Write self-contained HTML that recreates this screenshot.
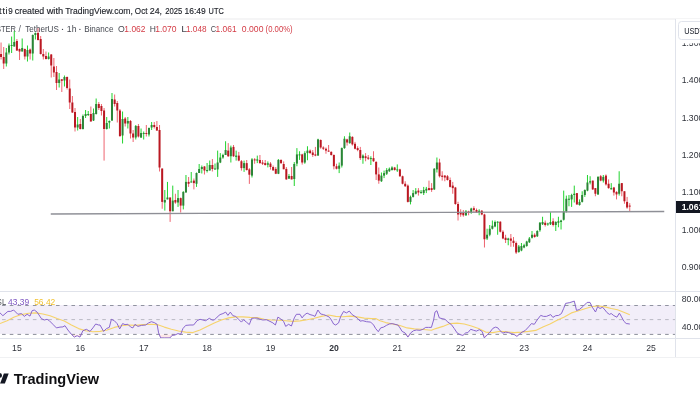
<!DOCTYPE html>
<html><head><meta charset="utf-8"><style>
*{margin:0;padding:0}
html,body{width:700px;height:400px;overflow:hidden;background:#fff}
svg{position:absolute;left:0;top:0;font-family:"Liberation Sans", Arial, sans-serif}
</style></head><body>
<svg width="700" height="400" viewBox="0 0 700 400">
<rect x="0" y="305" width="675" height="29" fill="#f2eef9"/>
<line x1="0" y1="305.5" x2="675" y2="305.5" stroke="#9093a0" stroke-width="1" stroke-dasharray="3.6 4.11" stroke-dashoffset="5.66"/>
<line x1="0" y1="319.6" x2="675" y2="319.6" stroke="#787b86" stroke-opacity="0.45" stroke-width="1" stroke-dasharray="3.6 4.11" stroke-dashoffset="5.66"/>
<line x1="0" y1="334.4" x2="675" y2="334.4" stroke="#8a8d99" stroke-width="1" stroke-dasharray="3.6 4.11" stroke-dashoffset="5.66"/>
<path d="M0.0 334.5 L0.0 334.5 L2.9 334.5 L7.9 334.5 L10.7 334.5 L13.6 334.5 L17.9 334.5 L21.4 334.5 L24.3 334.5 L27.1 334.5 L30.0 334.5 L32.1 334.5 L34.3 334.5 L37.1 334.5 L41.4 334.5 L44.3 334.5 L47.1 334.5 L49.3 334.5 L52.9 334.5 L56.4 334.5 L60.0 334.5 L62.9 334.5 L65.0 334.5 L67.9 334.5 L71.4 334.5 L74.3 337.1 L77.1 335.7 L80.0 337.1 L82.9 334.5 L86.4 334.5 L90.0 334.5 L92.9 334.5 L95.7 334.5 L98.6 334.5 L100.0 334.5 L103.6 334.5 L106.4 334.5 L109.3 334.5 L111.4 334.5 L114.3 334.5 L117.1 334.5 L119.7 334.5 L122.6 334.5 L125.0 334.5 L127.9 334.5 L130.7 334.5 L132.9 334.5 L135.0 334.5 L137.9 334.5 L141.4 334.5 L145.7 334.5 L148.6 334.5 L151.4 334.5 L154.3 334.5 L157.1 334.5 L158.6 334.5 L160.7 337.9 L164.3 337.9 L170.0 337.9 L172.1 335.4 L175.0 335.0 L177.9 334.5 L180.7 334.5 L182.9 334.5 L185.7 334.5 L190.0 334.5 L193.6 334.5 L197.1 334.5 L200.0 334.5 L202.9 334.5 L205.7 334.5 L209.3 334.5 L212.1 334.5 L214.3 334.5 L217.1 334.5 L220.0 334.5 L222.9 334.5 L225.7 334.5 L227.9 334.5 L230.3 334.5 L232.9 334.5 L235.7 334.5 L238.6 334.5 L241.4 334.5 L243.6 334.5 L246.4 334.5 L249.3 334.5 L251.7 334.5 L254.3 334.5 L257.1 334.5 L260.0 334.5 L262.9 334.5 L266.4 334.5 L270.0 334.5 L272.9 334.5 L275.4 334.5 L277.9 334.5 L280.7 334.5 L283.6 334.5 L285.7 334.5 L288.6 334.5 L291.4 334.5 L294.3 334.5 L296.4 334.5 L300.0 334.5 L302.1 334.5 L304.3 334.5 L307.1 334.5 L310.0 334.5 L312.9 334.5 L315.0 334.5 L317.9 334.5 L320.7 334.5 L323.6 334.5 L326.4 334.5 L329.3 334.5 L331.4 334.5 L333.6 334.5 L335.7 334.5 L338.6 334.5 L340.7 334.5 L343.6 334.5 L346.4 334.5 L349.3 334.5 L352.1 334.5 L355.0 334.5 L357.9 334.5 L360.0 334.5 L362.9 334.5 L366.4 334.5 L370.7 334.5 L373.6 334.5 L375.7 334.5 L378.3 334.5 L380.7 334.5 L383.6 334.5 L386.4 334.5 L389.3 334.5 L392.1 334.5 L395.0 334.5 L397.9 334.5 L400.0 334.5 L402.1 334.5 L405.0 334.5 L407.9 337.1 L410.7 334.5 L413.6 334.5 L416.4 334.5 L420.0 334.5 L422.9 334.5 L425.7 334.5 L428.6 334.5 L431.4 334.5 L433.6 334.5 L435.0 334.5 L436.9 334.5 L439.3 334.5 L442.1 334.5 L445.0 334.5 L447.9 334.5 L451.4 334.5 L454.3 334.5 L457.1 334.5 L460.0 334.6 L462.9 335.4 L465.7 334.5 L467.9 334.5 L470.7 334.5 L473.6 334.5 L476.4 334.5 L479.3 334.5 L482.1 334.5 L484.3 337.9 L487.1 335.0 L490.0 334.5 L492.9 334.5 L495.7 334.5 L497.9 334.5 L500.0 334.5 L502.9 334.5 L505.7 334.5 L508.6 334.5 L511.4 334.5 L514.3 334.6 L516.9 336.4 L519.3 334.5 L522.1 334.5 L525.0 334.5 L528.6 334.5 L531.4 334.5 L534.3 334.5 L537.1 334.5 L540.7 334.5 L543.6 334.5 L546.4 334.5 L550.7 334.5 L552.9 334.5 L555.7 334.5 L558.6 334.5 L561.4 334.5 L563.6 334.5 L565.6 334.5 L569.8 334.5 L574.3 334.5 L576.5 334.5 L579.4 334.5 L583.3 334.5 L587.1 334.5 L590.0 334.5 L592.3 334.5 L595.5 334.5 L597.7 334.5 L600.0 334.5 L602.5 334.5 L605.0 334.5 L606.9 334.5 L609.4 334.5 L611.2 334.5 L613.8 334.5 L616.9 334.5 L619.4 334.5 L621.2 334.5 L623.8 334.5 L626.2 334.5 L629.8 334.5 L629.8 334.5 Z" fill="#f23645" fill-opacity="0.12"/>
<path d="M0.0 305.5 L0.0 305.5 L2.9 305.5 L7.9 305.5 L10.7 305.5 L13.6 305.5 L17.9 305.5 L21.4 305.5 L24.3 305.5 L27.1 305.5 L30.0 305.5 L32.1 305.5 L34.3 305.5 L37.1 305.5 L41.4 305.5 L44.3 305.5 L47.1 305.5 L49.3 305.5 L52.9 305.5 L56.4 305.5 L60.0 305.5 L62.9 305.5 L65.0 305.5 L67.9 305.5 L71.4 305.5 L74.3 305.5 L77.1 305.5 L80.0 305.5 L82.9 305.5 L86.4 305.5 L90.0 305.5 L92.9 305.5 L95.7 305.5 L98.6 305.5 L100.0 305.5 L103.6 305.5 L106.4 305.5 L109.3 305.5 L111.4 305.5 L114.3 305.5 L117.1 305.5 L119.7 305.5 L122.6 305.5 L125.0 305.5 L127.9 305.5 L130.7 305.5 L132.9 305.5 L135.0 305.5 L137.9 305.5 L141.4 305.5 L145.7 305.5 L148.6 305.5 L151.4 305.5 L154.3 305.5 L157.1 305.5 L158.6 305.5 L160.7 305.5 L164.3 305.5 L170.0 305.5 L172.1 305.5 L175.0 305.5 L177.9 305.5 L180.7 305.5 L182.9 305.5 L185.7 305.5 L190.0 305.5 L193.6 305.5 L197.1 305.5 L200.0 305.5 L202.9 305.5 L205.7 305.5 L209.3 305.5 L212.1 305.5 L214.3 305.5 L217.1 305.5 L220.0 305.5 L222.9 305.5 L225.7 305.5 L227.9 305.5 L230.3 305.5 L232.9 305.5 L235.7 305.5 L238.6 305.5 L241.4 305.5 L243.6 305.5 L246.4 305.5 L249.3 305.5 L251.7 305.5 L254.3 305.5 L257.1 305.5 L260.0 305.5 L262.9 305.5 L266.4 305.5 L270.0 305.5 L272.9 305.5 L275.4 305.5 L277.9 305.5 L280.7 305.5 L283.6 305.5 L285.7 305.5 L288.6 305.5 L291.4 305.5 L294.3 305.5 L296.4 305.5 L300.0 305.5 L302.1 305.5 L304.3 305.5 L307.1 305.5 L310.0 305.5 L312.9 305.5 L315.0 305.5 L317.9 305.5 L320.7 305.5 L323.6 305.5 L326.4 305.5 L329.3 305.5 L331.4 305.5 L333.6 305.5 L335.7 305.5 L338.6 305.5 L340.7 305.5 L343.6 305.5 L346.4 305.5 L349.3 305.5 L352.1 305.5 L355.0 305.5 L357.9 305.5 L360.0 305.5 L362.9 305.5 L366.4 305.5 L370.7 305.5 L373.6 305.5 L375.7 305.5 L378.3 305.5 L380.7 305.5 L383.6 305.5 L386.4 305.5 L389.3 305.5 L392.1 305.5 L395.0 305.5 L397.9 305.5 L400.0 305.5 L402.1 305.5 L405.0 305.5 L407.9 305.5 L410.7 305.5 L413.6 305.5 L416.4 305.5 L420.0 305.5 L422.9 305.5 L425.7 305.5 L428.6 305.5 L431.4 305.5 L433.6 305.5 L435.0 305.5 L436.9 305.5 L439.3 305.5 L442.1 305.5 L445.0 305.5 L447.9 305.5 L451.4 305.5 L454.3 305.5 L457.1 305.5 L460.0 305.5 L462.9 305.5 L465.7 305.5 L467.9 305.5 L470.7 305.5 L473.6 305.5 L476.4 305.5 L479.3 305.5 L482.1 305.5 L484.3 305.5 L487.1 305.5 L490.0 305.5 L492.9 305.5 L495.7 305.5 L497.9 305.5 L500.0 305.5 L502.9 305.5 L505.7 305.5 L508.6 305.5 L511.4 305.5 L514.3 305.5 L516.9 305.5 L519.3 305.5 L522.1 305.5 L525.0 305.5 L528.6 305.5 L531.4 305.5 L534.3 305.5 L537.1 305.5 L540.7 305.5 L543.6 305.5 L546.4 305.5 L550.7 305.5 L552.9 305.5 L555.7 305.5 L558.6 305.5 L561.4 305.5 L563.6 305.5 L565.6 303.4 L569.8 302.6 L574.3 301.1 L576.5 305.5 L579.4 305.5 L583.3 305.5 L587.1 302.4 L590.0 302.4 L592.3 305.5 L595.5 305.5 L597.7 305.5 L600.0 305.5 L602.5 305.5 L605.0 305.5 L606.9 305.5 L609.4 305.5 L611.2 305.5 L613.8 305.5 L616.9 305.5 L619.4 305.5 L621.2 305.5 L623.8 305.5 L626.2 305.5 L629.8 305.5 L629.8 305.5 Z" fill="#4caf50" fill-opacity="0.08"/>
<path d="M0.0 323.6 L7.1 320.7 L14.3 317.1 L21.4 314.6 L28.6 313.3 L35.7 312.9 L42.9 314.0 L50.0 315.7 L57.1 318.6 L64.3 321.1 L71.4 325.0 L78.6 328.6 L85.7 330.7 L92.9 331.7 L100.0 331.4 L107.1 330.0 L114.3 327.4 L121.4 325.7 L128.6 325.0 L135.7 325.4 L142.9 324.6 L150.0 324.3 L157.1 324.6 L164.3 327.1 L171.4 329.3 L178.6 331.0 L185.7 332.1 L192.9 332.6 L200.0 330.0 L207.1 326.4 L214.3 322.9 L221.4 320.0 L228.6 317.9 L235.7 316.9 L242.9 316.9 L250.0 317.4 L257.1 317.6 L264.3 319.3 L271.4 320.0 L278.6 320.3 L285.7 320.7 L292.9 321.4 L300.0 320.9 L307.1 319.7 L314.3 318.3 L321.4 316.4 L328.6 315.0 L335.7 316.4 L342.9 316.7 L350.0 316.1 L357.1 316.9 L364.3 318.1 L371.4 318.6 L375.7 318.6 L380.0 320.7 L385.7 322.6 L392.9 324.0 L400.0 325.6 L407.1 327.9 L414.3 328.9 L421.4 329.3 L428.6 330.0 L431.4 330.3 L435.7 328.6 L442.9 326.4 L450.0 323.6 L457.1 323.1 L464.3 324.0 L471.4 326.0 L478.6 328.6 L485.7 332.1 L492.9 332.6 L500.0 331.3 L507.1 331.9 L514.3 332.6 L521.4 332.1 L528.6 331.4 L535.7 330.4 L542.9 326.9 L550.0 324.0 L557.1 320.3 L564.3 316.9 L571.4 312.9 L578.6 310.7 L585.7 308.5 L592.5 306.5 L598.8 306.0 L605.0 306.9 L611.2 308.5 L617.5 309.8 L623.8 312.2 L629.8 314.8" fill="none" stroke="#f6d36b" stroke-width="1.1" stroke-linejoin="round"/>
<path d="M0.0 312.9 L2.9 315.7 L7.9 311.4 L10.7 311.4 L13.6 310.0 L17.9 314.3 L21.4 313.6 L24.3 316.4 L27.1 314.3 L30.0 316.1 L32.1 310.7 L34.3 310.0 L37.1 312.1 L41.4 318.6 L44.3 320.0 L47.1 319.3 L49.3 320.7 L52.9 324.3 L56.4 327.9 L60.0 327.1 L62.9 326.9 L65.0 325.7 L67.9 330.0 L71.4 334.3 L74.3 337.1 L77.1 335.7 L80.0 337.1 L82.9 330.7 L86.4 329.3 L90.0 331.4 L92.9 327.9 L95.7 324.0 L98.6 325.0 L100.0 325.0 L103.6 331.4 L106.4 328.6 L109.3 327.4 L111.4 319.3 L114.3 320.7 L117.1 323.6 L119.7 328.9 L122.6 323.6 L125.0 324.6 L127.9 324.3 L130.7 327.1 L132.9 327.9 L135.0 324.3 L137.9 326.4 L141.4 325.4 L145.7 325.0 L148.6 322.9 L151.4 321.7 L154.3 322.6 L157.1 324.3 L158.6 332.9 L160.7 337.9 L164.3 337.9 L170.0 337.9 L172.1 335.4 L175.0 335.0 L177.9 333.6 L180.7 334.3 L182.9 328.6 L185.7 325.4 L190.0 325.0 L193.6 325.0 L197.1 320.7 L200.0 319.3 L202.9 320.0 L205.7 320.7 L209.3 318.3 L212.1 320.0 L214.3 320.0 L217.1 317.1 L220.0 314.6 L222.9 313.6 L225.7 312.1 L227.9 315.4 L230.3 312.1 L232.9 315.7 L235.7 316.4 L238.6 319.3 L241.4 322.1 L243.6 319.7 L246.4 322.1 L249.3 324.6 L251.7 318.3 L254.3 318.1 L257.1 318.1 L260.0 319.3 L262.9 320.0 L266.4 319.7 L270.0 321.4 L272.9 322.9 L275.4 325.0 L277.9 317.1 L280.7 318.9 L283.6 321.4 L285.7 326.4 L288.6 324.3 L291.4 326.0 L294.3 317.9 L296.4 314.3 L300.0 314.3 L302.1 317.9 L304.3 315.0 L307.1 313.1 L310.0 314.6 L312.9 315.4 L315.0 316.4 L317.9 310.0 L320.7 314.0 L323.6 314.6 L326.4 315.7 L329.3 317.1 L331.4 320.0 L333.6 324.0 L335.7 325.0 L338.6 322.9 L340.7 316.4 L343.6 311.4 L346.4 312.9 L349.3 311.1 L352.1 314.6 L355.0 316.4 L357.9 318.6 L360.0 321.1 L362.9 320.7 L366.4 321.7 L370.7 322.1 L373.6 325.0 L375.7 328.6 L378.3 331.7 L380.7 327.9 L383.6 327.1 L386.4 325.4 L389.3 324.0 L392.1 323.6 L395.0 324.3 L397.9 325.0 L400.0 327.9 L402.1 331.4 L405.0 332.9 L407.9 337.1 L410.7 332.9 L413.6 330.7 L416.4 330.0 L420.0 330.3 L422.9 329.3 L425.7 327.4 L428.6 327.4 L431.4 327.4 L433.6 320.0 L435.0 312.1 L436.9 310.7 L439.3 317.9 L442.1 318.6 L445.0 319.3 L447.9 322.1 L451.4 324.6 L454.3 328.6 L457.1 332.9 L460.0 334.6 L462.9 335.4 L465.7 332.9 L467.9 332.6 L470.7 329.3 L473.6 330.3 L476.4 331.1 L479.3 329.7 L482.1 331.4 L484.3 337.9 L487.1 335.0 L490.0 332.1 L492.9 328.3 L495.7 327.1 L497.9 327.9 L500.0 330.7 L502.9 333.1 L505.7 332.1 L508.6 332.6 L511.4 333.6 L514.3 334.6 L516.9 336.4 L519.3 334.3 L522.1 332.1 L525.0 330.7 L528.6 326.9 L531.4 323.6 L534.3 324.3 L537.1 320.0 L540.7 315.4 L543.6 316.4 L546.4 316.4 L550.7 314.6 L552.9 317.4 L555.7 315.7 L558.6 315.4 L561.4 313.6 L563.6 308.6 L565.6 303.4 L569.8 302.6 L574.3 301.1 L576.5 310.4 L579.4 309.5 L583.3 306.2 L587.1 302.4 L590.0 302.4 L592.3 307.2 L595.5 312.0 L597.7 306.6 L600.0 308.5 L602.5 307.2 L605.0 310.0 L606.9 312.5 L609.4 314.4 L611.2 313.5 L613.8 315.6 L616.9 317.2 L619.4 313.1 L621.2 316.2 L623.8 321.2 L626.2 323.5 L629.8 324.0" fill="none" stroke="#845fcb" stroke-width="0.95" stroke-linejoin="round"/>
<text stroke="#1c1f26" stroke-width="0.14" x="-1.00" y="13.50" font-size="9.00" fill="#1c1f26">t</text>
<text stroke="#1c1f26" stroke-width="0.14" x="2.60" y="13.50" font-size="9.00" fill="#1c1f26">t</text>
<text stroke="#1c1f26" stroke-width="0.14" x="5.60" y="13.50" font-size="9.00" fill="#1c1f26">i</text>
<text stroke="#1c1f26" stroke-width="0.14" x="8.26" y="13.50" font-size="9.00" fill="#1c1f26" textLength="4.48" lengthAdjust="spacingAndGlyphs">9</text>
<text stroke="#1c1f26" stroke-width="0.14" x="14.86" y="13.50" font-size="9.00" fill="#1c1f26" textLength="29.38" lengthAdjust="spacingAndGlyphs">created</text>
<text stroke="#1c1f26" stroke-width="0.14" x="46.66" y="13.50" font-size="9.00" fill="#1c1f26" textLength="16.48" lengthAdjust="spacingAndGlyphs">with</text>
<text stroke="#1c1f26" stroke-width="0.14" x="65.16" y="13.50" font-size="9.00" fill="#1c1f26" textLength="67.68" lengthAdjust="spacingAndGlyphs">TradingView.com,</text>
<text stroke="#1c1f26" stroke-width="0.14" x="134.86" y="13.50" font-size="9.00" fill="#1c1f26" textLength="12.58" lengthAdjust="spacingAndGlyphs">Oct</text>
<text stroke="#1c1f26" stroke-width="0.14" x="149.76" y="13.50" font-size="9.00" fill="#1c1f26" textLength="12.28" lengthAdjust="spacingAndGlyphs">24,</text>
<text stroke="#1c1f26" stroke-width="0.14" x="165.16" y="13.50" font-size="9.00" fill="#1c1f26" textLength="17.08" lengthAdjust="spacingAndGlyphs">2025</text>
<text stroke="#1c1f26" stroke-width="0.14" x="184.56" y="13.50" font-size="9.00" fill="#1c1f26" textLength="21.18" lengthAdjust="spacingAndGlyphs">16:49</text>
<text stroke="#1c1f26" stroke-width="0.14" x="208.56" y="13.50" font-size="9.00" fill="#1c1f26" textLength="15.18" lengthAdjust="spacingAndGlyphs">UTC</text>
<text x="-9.13" y="32.00" font-size="8.80" fill="#474a52" textLength="25.06" lengthAdjust="spacingAndGlyphs">ASTER</text>
<text x="18.40" y="32.00" font-size="8.80" fill="#5a5d66">/</text>
<text x="25.17" y="32.00" font-size="8.80" fill="#474a52" textLength="33.66" lengthAdjust="spacingAndGlyphs">TetherUS</text>
<text x="66.87" y="32.00" font-size="8.80" fill="#474a52" textLength="9.66" lengthAdjust="spacingAndGlyphs">1h</text>
<text x="84.17" y="32.00" font-size="8.80" fill="#474a52" textLength="29.26" lengthAdjust="spacingAndGlyphs">Binance</text>
<text x="118.07" y="32.00" font-size="8.80" fill="#474a52" textLength="6.76" lengthAdjust="spacingAndGlyphs">O</text>
<text x="124.37" y="32.00" font-size="8.80" fill="#d43c46" textLength="21.06" lengthAdjust="spacingAndGlyphs">1.062</text>
<text x="149.77" y="32.00" font-size="8.80" fill="#474a52" textLength="6.16" lengthAdjust="spacingAndGlyphs">H</text>
<text x="155.17" y="32.00" font-size="8.80" fill="#d43c46" textLength="21.36" lengthAdjust="spacingAndGlyphs">1.070</text>
<text x="181.17" y="32.00" font-size="8.80" fill="#474a52" textLength="5.86" lengthAdjust="spacingAndGlyphs">L</text>
<text x="185.97" y="32.00" font-size="8.80" fill="#d43c46" textLength="20.56" lengthAdjust="spacingAndGlyphs">1.048</text>
<text x="210.87" y="32.00" font-size="8.80" fill="#474a52" textLength="5.36" lengthAdjust="spacingAndGlyphs">C</text>
<text x="215.47" y="32.00" font-size="8.80" fill="#d43c46" textLength="21.16" lengthAdjust="spacingAndGlyphs">1.061</text>
<text x="241.87" y="32.00" font-size="8.80" fill="#d43c46" textLength="21.56" lengthAdjust="spacingAndGlyphs">0.000</text>
<text x="265.57" y="32.00" font-size="8.80" fill="#d43c46" textLength="27.06" lengthAdjust="spacingAndGlyphs">(0.00%)</text>
<circle cx="62.5" cy="29.4" r="0.65" fill="#474a52"/>
<circle cx="79.9" cy="29.4" r="0.65" fill="#474a52"/>
<rect x="0.55" y="42.50" width="1.00" height="17.00" fill="#ee6470"/>
<rect x="3.19" y="47.00" width="1.00" height="22.00" fill="#ee6470"/>
<rect x="5.83" y="48.00" width="1.00" height="18.50" fill="#22d32f"/>
<rect x="8.48" y="43.50" width="1.00" height="11.00" fill="#22d32f"/>
<rect x="11.12" y="36.50" width="1.00" height="16.50" fill="#22d32f"/>
<rect x="13.76" y="31.00" width="1.00" height="15.50" fill="#22d32f"/>
<rect x="16.40" y="39.00" width="1.00" height="12.00" fill="#ee6470"/>
<rect x="19.04" y="48.50" width="1.00" height="11.50" fill="#ee6470"/>
<rect x="21.68" y="38.50" width="1.00" height="13.00" fill="#22d32f"/>
<rect x="24.32" y="48.50" width="1.00" height="11.00" fill="#ee6470"/>
<rect x="26.97" y="45.50" width="1.00" height="16.00" fill="#22d32f"/>
<rect x="29.61" y="48.50" width="1.00" height="11.00" fill="#ee6470"/>
<rect x="32.25" y="34.50" width="1.00" height="26.00" fill="#22d32f"/>
<rect x="34.89" y="32.50" width="1.00" height="7.00" fill="#22d32f"/>
<rect x="37.53" y="28.20" width="1.00" height="12.30" fill="#ee6470"/>
<rect x="40.17" y="36.00" width="1.00" height="18.50" fill="#ee6470"/>
<rect x="42.81" y="49.00" width="1.00" height="10.50" fill="#ee6470"/>
<rect x="45.46" y="51.50" width="1.00" height="8.00" fill="#ee6470"/>
<rect x="48.10" y="52.50" width="1.00" height="7.00" fill="#22d32f"/>
<rect x="50.74" y="54.00" width="1.00" height="23.50" fill="#ee6470"/>
<rect x="53.38" y="58.00" width="1.00" height="19.00" fill="#ee6470"/>
<rect x="56.02" y="66.00" width="1.00" height="24.00" fill="#ee6470"/>
<rect x="58.66" y="73.00" width="1.00" height="14.50" fill="#22d32f"/>
<rect x="61.31" y="79.00" width="1.00" height="13.00" fill="#ee6470"/>
<rect x="63.95" y="75.50" width="1.00" height="11.00" fill="#22d32f"/>
<rect x="66.59" y="76.50" width="1.00" height="13.00" fill="#ee6470"/>
<rect x="69.23" y="79.50" width="1.00" height="29.50" fill="#ee6470"/>
<rect x="71.87" y="96.00" width="1.00" height="17.00" fill="#ee6470"/>
<rect x="74.51" y="108.00" width="1.00" height="23.50" fill="#ee6470"/>
<rect x="77.15" y="117.00" width="1.00" height="13.50" fill="#22d32f"/>
<rect x="79.80" y="119.00" width="1.00" height="10.50" fill="#ee6470"/>
<rect x="82.44" y="114.50" width="1.00" height="15.00" fill="#22d32f"/>
<rect x="85.08" y="110.00" width="1.00" height="8.00" fill="#22d32f"/>
<rect x="87.72" y="111.00" width="1.00" height="5.00" fill="#22d32f"/>
<rect x="90.36" y="106.50" width="1.00" height="15.00" fill="#ee6470"/>
<rect x="93.00" y="108.50" width="1.00" height="12.50" fill="#22d32f"/>
<rect x="95.65" y="98.50" width="1.00" height="16.00" fill="#22d32f"/>
<rect x="98.29" y="102.00" width="1.00" height="8.00" fill="#ee6470"/>
<rect x="100.93" y="104.00" width="1.00" height="11.50" fill="#ee6470"/>
<rect x="103.57" y="108.00" width="1.00" height="52.60" fill="#ee6470"/>
<rect x="106.21" y="117.00" width="1.00" height="12.50" fill="#22d32f"/>
<rect x="108.85" y="120.50" width="1.00" height="8.00" fill="#22d32f"/>
<rect x="111.49" y="93.00" width="1.00" height="28.00" fill="#22d32f"/>
<rect x="114.14" y="94.50" width="1.00" height="12.00" fill="#ee6470"/>
<rect x="116.78" y="101.00" width="1.00" height="21.50" fill="#ee6470"/>
<rect x="119.42" y="109.00" width="1.00" height="28.00" fill="#ee6470"/>
<rect x="122.06" y="111.50" width="1.00" height="32.00" fill="#22d32f"/>
<rect x="124.70" y="117.00" width="1.00" height="9.50" fill="#ee6470"/>
<rect x="127.34" y="117.00" width="1.00" height="11.50" fill="#22d32f"/>
<rect x="129.98" y="120.00" width="1.00" height="18.50" fill="#ee6470"/>
<rect x="132.63" y="130.00" width="1.00" height="12.00" fill="#ee6470"/>
<rect x="135.27" y="125.00" width="1.00" height="14.50" fill="#22d32f"/>
<rect x="137.91" y="124.00" width="1.00" height="13.50" fill="#ee6470"/>
<rect x="140.55" y="128.50" width="1.00" height="9.50" fill="#22d32f"/>
<rect x="143.19" y="131.50" width="1.00" height="8.00" fill="#22d32f"/>
<rect x="145.83" y="125.00" width="1.00" height="11.50" fill="#ee6470"/>
<rect x="148.48" y="127.50" width="1.00" height="9.00" fill="#22d32f"/>
<rect x="151.12" y="122.00" width="1.00" height="8.00" fill="#22d32f"/>
<rect x="153.76" y="122.00" width="1.00" height="6.50" fill="#ee6470"/>
<rect x="156.40" y="121.00" width="1.00" height="10.00" fill="#ee6470"/>
<rect x="159.04" y="125.00" width="1.00" height="46.50" fill="#ee6470"/>
<rect x="161.68" y="168.50" width="1.00" height="40.25" fill="#ee6470"/>
<rect x="164.32" y="190.00" width="1.00" height="20.60" fill="#22d32f"/>
<rect x="166.97" y="181.90" width="1.00" height="17.50" fill="#22d32f"/>
<rect x="169.61" y="197.50" width="1.00" height="24.40" fill="#ee6470"/>
<rect x="172.25" y="185.60" width="1.00" height="25.65" fill="#22d32f"/>
<rect x="174.89" y="193.75" width="1.00" height="10.00" fill="#ee6470"/>
<rect x="177.53" y="190.00" width="1.00" height="16.90" fill="#22d32f"/>
<rect x="180.17" y="197.50" width="1.00" height="15.00" fill="#ee6470"/>
<rect x="182.81" y="191.25" width="1.00" height="18.15" fill="#22d32f"/>
<rect x="185.46" y="175.00" width="1.00" height="17.50" fill="#22d32f"/>
<rect x="188.10" y="177.00" width="1.00" height="9.90" fill="#ee6470"/>
<rect x="190.74" y="172.00" width="1.00" height="10.50" fill="#22d32f"/>
<rect x="193.38" y="178.50" width="1.00" height="10.90" fill="#ee6470"/>
<rect x="196.02" y="172.50" width="1.00" height="14.40" fill="#22d32f"/>
<rect x="198.66" y="164.00" width="1.00" height="9.00" fill="#22d32f"/>
<rect x="201.31" y="165.50" width="1.00" height="8.00" fill="#22d32f"/>
<rect x="203.95" y="166.00" width="1.00" height="8.50" fill="#ee6470"/>
<rect x="206.59" y="163.00" width="1.00" height="9.50" fill="#22d32f"/>
<rect x="209.23" y="160.50" width="1.00" height="10.00" fill="#22d32f"/>
<rect x="211.87" y="159.00" width="1.00" height="12.50" fill="#ee6470"/>
<rect x="214.51" y="163.50" width="1.00" height="6.00" fill="#22d32f"/>
<rect x="217.15" y="150.60" width="1.00" height="26.30" fill="#22d32f"/>
<rect x="219.80" y="153.10" width="1.00" height="10.00" fill="#22d32f"/>
<rect x="222.44" y="153.75" width="1.00" height="5.00" fill="#22d32f"/>
<rect x="225.08" y="141.25" width="1.00" height="13.75" fill="#22d32f"/>
<rect x="227.72" y="143.10" width="1.00" height="13.80" fill="#ee6470"/>
<rect x="230.36" y="145.60" width="1.00" height="16.90" fill="#22d32f"/>
<rect x="233.00" y="145.00" width="1.00" height="11.90" fill="#ee6470"/>
<rect x="235.64" y="150.60" width="1.00" height="10.00" fill="#22d32f"/>
<rect x="238.29" y="151.90" width="1.00" height="9.35" fill="#ee6470"/>
<rect x="240.93" y="160.00" width="1.00" height="10.60" fill="#ee6470"/>
<rect x="243.57" y="160.60" width="1.00" height="11.30" fill="#22d32f"/>
<rect x="246.21" y="160.00" width="1.00" height="10.60" fill="#ee6470"/>
<rect x="248.85" y="168.10" width="1.00" height="15.80" fill="#ee6470"/>
<rect x="251.49" y="158.10" width="1.00" height="19.40" fill="#22d32f"/>
<rect x="254.14" y="158.10" width="1.00" height="5.65" fill="#ee6470"/>
<rect x="256.78" y="155.60" width="1.00" height="7.50" fill="#22d32f"/>
<rect x="259.42" y="155.00" width="1.00" height="8.75" fill="#ee6470"/>
<rect x="262.06" y="160.00" width="1.00" height="5.00" fill="#ee6470"/>
<rect x="264.70" y="160.00" width="1.00" height="5.60" fill="#ee6470"/>
<rect x="267.34" y="161.40" width="1.00" height="6.00" fill="#22d32f"/>
<rect x="269.98" y="162.10" width="1.00" height="7.50" fill="#ee6470"/>
<rect x="272.63" y="165.50" width="1.00" height="5.25" fill="#ee6470"/>
<rect x="275.27" y="167.00" width="1.00" height="7.10" fill="#ee6470"/>
<rect x="277.91" y="159.10" width="1.00" height="15.00" fill="#22d32f"/>
<rect x="280.55" y="159.50" width="1.00" height="4.10" fill="#ee6470"/>
<rect x="283.19" y="161.40" width="1.00" height="7.85" fill="#ee6470"/>
<rect x="285.83" y="167.00" width="1.00" height="12.75" fill="#ee6470"/>
<rect x="288.47" y="174.10" width="1.00" height="4.90" fill="#22d32f"/>
<rect x="291.12" y="167.00" width="1.00" height="12.40" fill="#ee6470"/>
<rect x="293.76" y="162.10" width="1.00" height="23.90" fill="#22d32f"/>
<rect x="296.40" y="148.10" width="1.00" height="18.15" fill="#22d32f"/>
<rect x="299.04" y="151.25" width="1.00" height="8.65" fill="#22d32f"/>
<rect x="301.68" y="153.75" width="1.00" height="10.85" fill="#ee6470"/>
<rect x="304.32" y="151.25" width="1.00" height="12.50" fill="#22d32f"/>
<rect x="306.96" y="146.25" width="1.00" height="14.00" fill="#22d32f"/>
<rect x="309.61" y="149.40" width="1.00" height="4.35" fill="#ee6470"/>
<rect x="312.25" y="150.00" width="1.00" height="6.90" fill="#ee6470"/>
<rect x="314.89" y="146.90" width="1.00" height="9.35" fill="#ee6470"/>
<rect x="317.53" y="138.75" width="1.00" height="16.85" fill="#22d32f"/>
<rect x="320.17" y="139.40" width="1.00" height="9.35" fill="#ee6470"/>
<rect x="322.81" y="146.25" width="1.00" height="3.75" fill="#ee6470"/>
<rect x="325.46" y="147.50" width="1.00" height="6.25" fill="#ee6470"/>
<rect x="328.10" y="145.00" width="1.00" height="6.90" fill="#ee6470"/>
<rect x="330.74" y="151.25" width="1.00" height="4.35" fill="#ee6470"/>
<rect x="333.38" y="154.40" width="1.00" height="15.00" fill="#ee6470"/>
<rect x="336.02" y="163.75" width="1.00" height="5.65" fill="#ee6470"/>
<rect x="338.66" y="162.50" width="1.00" height="10.60" fill="#22d32f"/>
<rect x="341.30" y="147.50" width="1.00" height="20.00" fill="#22d32f"/>
<rect x="343.95" y="136.25" width="1.00" height="12.50" fill="#22d32f"/>
<rect x="346.59" y="138.75" width="1.00" height="6.85" fill="#ee6470"/>
<rect x="349.23" y="132.50" width="1.00" height="11.25" fill="#22d32f"/>
<rect x="351.87" y="136.25" width="1.00" height="9.35" fill="#ee6470"/>
<rect x="354.51" y="141.90" width="1.00" height="7.50" fill="#ee6470"/>
<rect x="357.15" y="146.25" width="1.00" height="5.00" fill="#ee6470"/>
<rect x="359.80" y="146.90" width="1.00" height="13.10" fill="#ee6470"/>
<rect x="362.44" y="154.40" width="1.00" height="9.35" fill="#22d32f"/>
<rect x="365.08" y="153.10" width="1.00" height="8.15" fill="#ee6470"/>
<rect x="367.72" y="155.00" width="1.00" height="5.00" fill="#ee6470"/>
<rect x="370.36" y="156.25" width="1.00" height="8.75" fill="#22d32f"/>
<rect x="373.00" y="151.25" width="1.00" height="10.65" fill="#ee6470"/>
<rect x="375.64" y="161.25" width="1.00" height="18.75" fill="#ee6470"/>
<rect x="378.29" y="167.50" width="1.00" height="16.25" fill="#ee6470"/>
<rect x="380.93" y="172.50" width="1.00" height="9.40" fill="#22d32f"/>
<rect x="383.57" y="170.60" width="1.00" height="7.50" fill="#22d32f"/>
<rect x="386.21" y="168.10" width="1.00" height="6.90" fill="#22d32f"/>
<rect x="388.85" y="167.50" width="1.00" height="4.40" fill="#22d32f"/>
<rect x="391.49" y="166.25" width="1.00" height="4.35" fill="#22d32f"/>
<rect x="394.13" y="166.90" width="1.00" height="3.70" fill="#ee6470"/>
<rect x="396.78" y="164.40" width="1.00" height="7.50" fill="#22d32f"/>
<rect x="399.42" y="168.75" width="1.00" height="8.15" fill="#ee6470"/>
<rect x="402.06" y="175.60" width="1.00" height="8.80" fill="#ee6470"/>
<rect x="404.70" y="181.25" width="1.00" height="5.65" fill="#ee6470"/>
<rect x="407.34" y="184.40" width="1.00" height="18.10" fill="#ee6470"/>
<rect x="409.98" y="195.60" width="1.00" height="8.80" fill="#22d32f"/>
<rect x="412.62" y="190.00" width="1.00" height="7.50" fill="#22d32f"/>
<rect x="415.27" y="188.10" width="1.00" height="6.30" fill="#22d32f"/>
<rect x="417.91" y="188.10" width="1.00" height="7.50" fill="#ee6470"/>
<rect x="420.55" y="190.00" width="1.00" height="3.75" fill="#22d32f"/>
<rect x="423.19" y="186.90" width="1.00" height="8.10" fill="#22d32f"/>
<rect x="425.83" y="186.90" width="1.00" height="6.20" fill="#22d32f"/>
<rect x="428.47" y="180.60" width="1.00" height="10.00" fill="#ee6470"/>
<rect x="431.12" y="183.10" width="1.00" height="8.80" fill="#ee6470"/>
<rect x="433.76" y="168.10" width="1.00" height="21.90" fill="#22d32f"/>
<rect x="436.40" y="157.50" width="1.00" height="15.00" fill="#22d32f"/>
<rect x="439.04" y="158.75" width="1.00" height="18.75" fill="#ee6470"/>
<rect x="441.68" y="171.25" width="1.00" height="9.35" fill="#ee6470"/>
<rect x="444.32" y="175.00" width="1.00" height="6.25" fill="#ee6470"/>
<rect x="446.96" y="175.00" width="1.00" height="5.60" fill="#ee6470"/>
<rect x="449.61" y="177.50" width="1.00" height="10.00" fill="#ee6470"/>
<rect x="452.25" y="181.90" width="1.00" height="11.85" fill="#ee6470"/>
<rect x="454.89" y="186.90" width="1.00" height="17.85" fill="#ee6470"/>
<rect x="457.53" y="201.75" width="1.00" height="18.75" fill="#ee6470"/>
<rect x="460.17" y="209.25" width="1.00" height="7.50" fill="#ee6470"/>
<rect x="462.81" y="210.00" width="1.00" height="6.75" fill="#ee6470"/>
<rect x="465.45" y="210.00" width="1.00" height="6.00" fill="#22d32f"/>
<rect x="468.10" y="210.75" width="1.00" height="4.50" fill="#ee6470"/>
<rect x="470.74" y="207.75" width="1.00" height="6.00" fill="#22d32f"/>
<rect x="473.38" y="206.25" width="1.00" height="6.00" fill="#ee6470"/>
<rect x="476.02" y="208.50" width="1.00" height="4.50" fill="#ee6470"/>
<rect x="478.66" y="209.25" width="1.00" height="6.00" fill="#22d32f"/>
<rect x="481.30" y="210.00" width="1.00" height="5.25" fill="#ee6470"/>
<rect x="483.95" y="213.75" width="1.00" height="33.75" fill="#ee6470"/>
<rect x="486.59" y="228.75" width="1.00" height="11.25" fill="#22d32f"/>
<rect x="489.23" y="225.00" width="1.00" height="11.25" fill="#22d32f"/>
<rect x="491.87" y="220.50" width="1.00" height="9.00" fill="#22d32f"/>
<rect x="494.51" y="220.50" width="1.00" height="6.75" fill="#22d32f"/>
<rect x="497.15" y="221.25" width="1.00" height="13.50" fill="#22d32f"/>
<rect x="499.79" y="221.25" width="1.00" height="11.25" fill="#ee6470"/>
<rect x="502.44" y="230.25" width="1.00" height="9.00" fill="#ee6470"/>
<rect x="505.08" y="234.75" width="1.00" height="8.25" fill="#ee6470"/>
<rect x="507.72" y="237.75" width="1.00" height="7.50" fill="#22d32f"/>
<rect x="510.36" y="234.00" width="1.00" height="12.75" fill="#ee6470"/>
<rect x="513.00" y="237.00" width="1.00" height="9.75" fill="#ee6470"/>
<rect x="515.64" y="241.50" width="1.00" height="12.50" fill="#ee6470"/>
<rect x="518.29" y="245.00" width="1.00" height="7.75" fill="#22d32f"/>
<rect x="520.93" y="243.00" width="1.00" height="8.25" fill="#22d32f"/>
<rect x="523.57" y="243.75" width="1.00" height="4.50" fill="#22d32f"/>
<rect x="526.21" y="240.75" width="1.00" height="6.00" fill="#22d32f"/>
<rect x="528.85" y="237.00" width="1.00" height="6.00" fill="#22d32f"/>
<rect x="531.49" y="231.00" width="1.00" height="7.50" fill="#22d32f"/>
<rect x="534.13" y="233.25" width="1.00" height="4.50" fill="#ee6470"/>
<rect x="536.78" y="230.25" width="1.00" height="6.75" fill="#22d32f"/>
<rect x="539.42" y="222.00" width="1.00" height="9.75" fill="#22d32f"/>
<rect x="542.06" y="216.75" width="1.00" height="8.25" fill="#22d32f"/>
<rect x="544.70" y="220.50" width="1.00" height="6.00" fill="#ee6470"/>
<rect x="547.34" y="222.75" width="1.00" height="3.00" fill="#22d32f"/>
<rect x="549.98" y="212.25" width="1.00" height="12.75" fill="#22d32f"/>
<rect x="552.62" y="218.25" width="1.00" height="8.25" fill="#ee6470"/>
<rect x="555.27" y="221.25" width="1.00" height="9.75" fill="#22d32f"/>
<rect x="557.91" y="216.75" width="1.00" height="10.50" fill="#22d32f"/>
<rect x="560.55" y="219.75" width="1.00" height="9.75" fill="#22d32f"/>
<rect x="563.19" y="190.60" width="1.00" height="29.90" fill="#22d32f"/>
<rect x="565.83" y="195.60" width="1.00" height="16.90" fill="#22d32f"/>
<rect x="568.47" y="195.00" width="1.00" height="11.25" fill="#22d32f"/>
<rect x="571.12" y="193.75" width="1.00" height="13.15" fill="#22d32f"/>
<rect x="573.76" y="185.60" width="1.00" height="16.90" fill="#22d32f"/>
<rect x="576.40" y="193.10" width="1.00" height="11.90" fill="#ee6470"/>
<rect x="579.04" y="199.40" width="1.00" height="6.20" fill="#22d32f"/>
<rect x="581.68" y="191.25" width="1.00" height="11.25" fill="#22d32f"/>
<rect x="584.32" y="189.40" width="1.00" height="7.50" fill="#22d32f"/>
<rect x="586.96" y="175.00" width="1.00" height="16.25" fill="#22d32f"/>
<rect x="589.61" y="176.25" width="1.00" height="8.15" fill="#22d32f"/>
<rect x="592.25" y="180.60" width="1.00" height="9.40" fill="#ee6470"/>
<rect x="594.89" y="188.10" width="1.00" height="8.15" fill="#ee6470"/>
<rect x="597.53" y="176.25" width="1.00" height="18.75" fill="#22d32f"/>
<rect x="600.17" y="175.00" width="1.00" height="6.25" fill="#ee6470"/>
<rect x="602.81" y="175.00" width="1.00" height="7.50" fill="#22d32f"/>
<rect x="605.45" y="174.40" width="1.00" height="11.20" fill="#ee6470"/>
<rect x="608.10" y="179.40" width="1.00" height="9.35" fill="#ee6470"/>
<rect x="610.74" y="183.10" width="1.00" height="6.30" fill="#22d32f"/>
<rect x="613.38" y="186.90" width="1.00" height="8.70" fill="#ee6470"/>
<rect x="616.02" y="191.25" width="1.00" height="8.15" fill="#ee6470"/>
<rect x="618.66" y="171.25" width="1.00" height="24.35" fill="#22d32f"/>
<rect x="621.30" y="183.10" width="1.00" height="13.15" fill="#ee6470"/>
<rect x="623.95" y="191.25" width="1.00" height="12.50" fill="#ee6470"/>
<rect x="626.59" y="196.90" width="1.00" height="11.85" fill="#ee6470"/>
<rect x="629.23" y="203.10" width="1.00" height="8.15" fill="#ee6470"/>
<rect x="0.05" y="54.00" width="2.00" height="3.00" fill="#ba1822"/>
<rect x="2.69" y="57.00" width="2.00" height="6.50" fill="#ba1822"/>
<rect x="5.33" y="52.50" width="2.00" height="11.00" fill="#2b8437"/>
<rect x="7.98" y="45.50" width="2.00" height="7.00" fill="#2b8437"/>
<rect x="10.62" y="45.00" width="2.00" height="1.00" fill="#2b8437"/>
<rect x="13.26" y="42.00" width="2.00" height="4.50" fill="#2b8437"/>
<rect x="15.90" y="41.00" width="2.00" height="9.50" fill="#ba1822"/>
<rect x="18.54" y="49.00" width="2.00" height="2.50" fill="#ba1822"/>
<rect x="21.18" y="48.00" width="2.00" height="3.50" fill="#2b8437"/>
<rect x="23.82" y="49.00" width="2.00" height="7.50" fill="#ba1822"/>
<rect x="26.47" y="50.00" width="2.00" height="6.50" fill="#2b8437"/>
<rect x="29.11" y="49.50" width="2.00" height="4.00" fill="#ba1822"/>
<rect x="31.75" y="35.00" width="2.00" height="18.50" fill="#2b8437"/>
<rect x="34.39" y="33.00" width="2.00" height="2.00" fill="#2b8437"/>
<rect x="37.03" y="33.00" width="2.00" height="7.00" fill="#ba1822"/>
<rect x="39.67" y="39.00" width="2.00" height="15.00" fill="#ba1822"/>
<rect x="42.31" y="54.00" width="2.00" height="2.50" fill="#ba1822"/>
<rect x="44.96" y="56.00" width="2.00" height="3.00" fill="#ba1822"/>
<rect x="47.60" y="56.50" width="2.00" height="2.50" fill="#2b8437"/>
<rect x="50.24" y="54.50" width="2.00" height="11.00" fill="#ba1822"/>
<rect x="52.88" y="66.50" width="2.00" height="6.00" fill="#ba1822"/>
<rect x="55.52" y="72.00" width="2.00" height="11.00" fill="#ba1822"/>
<rect x="58.16" y="79.50" width="2.00" height="3.50" fill="#2b8437"/>
<rect x="60.81" y="79.30" width="2.00" height="1.50" fill="#ba1822"/>
<rect x="63.45" y="77.00" width="2.00" height="3.50" fill="#2b8437"/>
<rect x="66.09" y="77.00" width="2.00" height="11.00" fill="#ba1822"/>
<rect x="68.73" y="88.50" width="2.00" height="14.00" fill="#ba1822"/>
<rect x="71.37" y="102.50" width="2.00" height="10.00" fill="#ba1822"/>
<rect x="74.01" y="112.00" width="2.00" height="15.50" fill="#ba1822"/>
<rect x="76.65" y="124.50" width="2.00" height="3.00" fill="#2b8437"/>
<rect x="79.30" y="124.00" width="2.00" height="5.00" fill="#ba1822"/>
<rect x="81.94" y="116.00" width="2.00" height="13.00" fill="#2b8437"/>
<rect x="84.58" y="114.00" width="2.00" height="2.00" fill="#2b8437"/>
<rect x="87.22" y="114.00" width="2.00" height="1.00" fill="#2b8437"/>
<rect x="89.86" y="114.00" width="2.00" height="7.50" fill="#ba1822"/>
<rect x="92.50" y="113.00" width="2.00" height="7.50" fill="#2b8437"/>
<rect x="95.15" y="104.00" width="2.00" height="10.00" fill="#2b8437"/>
<rect x="97.79" y="104.00" width="2.00" height="4.00" fill="#ba1822"/>
<rect x="100.43" y="106.00" width="2.00" height="5.00" fill="#ba1822"/>
<rect x="103.07" y="110.50" width="2.00" height="18.50" fill="#ba1822"/>
<rect x="105.71" y="123.00" width="2.00" height="6.00" fill="#2b8437"/>
<rect x="108.35" y="121.00" width="2.00" height="1.50" fill="#2b8437"/>
<rect x="110.99" y="99.00" width="2.00" height="21.50" fill="#2b8437"/>
<rect x="113.64" y="99.50" width="2.00" height="4.50" fill="#ba1822"/>
<rect x="116.28" y="103.00" width="2.00" height="7.50" fill="#ba1822"/>
<rect x="118.92" y="110.50" width="2.00" height="25.50" fill="#ba1822"/>
<rect x="121.56" y="119.00" width="2.00" height="16.50" fill="#2b8437"/>
<rect x="124.20" y="118.50" width="2.00" height="5.00" fill="#ba1822"/>
<rect x="126.84" y="121.00" width="2.00" height="2.50" fill="#2b8437"/>
<rect x="129.48" y="121.00" width="2.00" height="12.50" fill="#ba1822"/>
<rect x="132.13" y="133.50" width="2.00" height="4.00" fill="#ba1822"/>
<rect x="134.77" y="126.00" width="2.00" height="11.50" fill="#2b8437"/>
<rect x="137.41" y="126.00" width="2.00" height="10.50" fill="#ba1822"/>
<rect x="140.05" y="133.00" width="2.00" height="4.50" fill="#2b8437"/>
<rect x="142.69" y="133.00" width="2.00" height="1.00" fill="#2b8437"/>
<rect x="145.33" y="133.00" width="2.00" height="1.00" fill="#ba1822"/>
<rect x="147.98" y="128.00" width="2.00" height="6.50" fill="#2b8437"/>
<rect x="150.62" y="125.00" width="2.00" height="2.50" fill="#2b8437"/>
<rect x="153.26" y="125.00" width="2.00" height="2.00" fill="#ba1822"/>
<rect x="155.90" y="127.00" width="2.00" height="3.50" fill="#ba1822"/>
<rect x="158.54" y="130.00" width="2.00" height="37.50" fill="#ba1822"/>
<rect x="161.18" y="168.50" width="2.00" height="33.40" fill="#ba1822"/>
<rect x="163.82" y="200.00" width="2.00" height="2.50" fill="#2b8437"/>
<rect x="166.47" y="197.50" width="2.00" height="1.90" fill="#2b8437"/>
<rect x="169.11" y="197.50" width="2.00" height="13.75" fill="#ba1822"/>
<rect x="171.75" y="200.60" width="2.00" height="10.65" fill="#2b8437"/>
<rect x="174.39" y="200.00" width="2.00" height="2.50" fill="#ba1822"/>
<rect x="177.03" y="198.10" width="2.00" height="4.40" fill="#2b8437"/>
<rect x="179.67" y="198.10" width="2.00" height="7.50" fill="#ba1822"/>
<rect x="182.31" y="191.90" width="2.00" height="13.70" fill="#2b8437"/>
<rect x="184.96" y="181.90" width="2.00" height="10.60" fill="#2b8437"/>
<rect x="187.60" y="181.90" width="2.00" height="1.85" fill="#ba1822"/>
<rect x="190.24" y="181.50" width="2.00" height="1.00" fill="#2b8437"/>
<rect x="192.88" y="180.60" width="2.00" height="2.50" fill="#ba1822"/>
<rect x="195.52" y="173.00" width="2.00" height="10.75" fill="#2b8437"/>
<rect x="198.16" y="169.00" width="2.00" height="4.00" fill="#2b8437"/>
<rect x="200.81" y="167.00" width="2.00" height="2.00" fill="#2b8437"/>
<rect x="203.45" y="166.50" width="2.00" height="4.00" fill="#ba1822"/>
<rect x="206.09" y="170.00" width="2.00" height="1.00" fill="#2b8437"/>
<rect x="208.73" y="165.00" width="2.00" height="5.50" fill="#2b8437"/>
<rect x="211.37" y="165.00" width="2.00" height="4.00" fill="#ba1822"/>
<rect x="214.01" y="168.50" width="2.00" height="1.00" fill="#2b8437"/>
<rect x="216.65" y="162.50" width="2.00" height="6.90" fill="#2b8437"/>
<rect x="219.30" y="157.50" width="2.00" height="5.00" fill="#2b8437"/>
<rect x="221.94" y="155.00" width="2.00" height="2.50" fill="#2b8437"/>
<rect x="224.58" y="150.00" width="2.00" height="5.00" fill="#2b8437"/>
<rect x="227.22" y="150.60" width="2.00" height="5.65" fill="#ba1822"/>
<rect x="229.86" y="147.50" width="2.00" height="8.75" fill="#2b8437"/>
<rect x="232.50" y="146.90" width="2.00" height="9.35" fill="#ba1822"/>
<rect x="235.14" y="155.60" width="2.00" height="1.30" fill="#2b8437"/>
<rect x="237.79" y="155.60" width="2.00" height="5.00" fill="#ba1822"/>
<rect x="240.43" y="161.25" width="2.00" height="6.85" fill="#ba1822"/>
<rect x="243.07" y="163.10" width="2.00" height="5.00" fill="#2b8437"/>
<rect x="245.71" y="163.10" width="2.00" height="6.90" fill="#ba1822"/>
<rect x="248.35" y="169.40" width="2.00" height="5.30" fill="#ba1822"/>
<rect x="250.99" y="159.40" width="2.00" height="16.20" fill="#2b8437"/>
<rect x="253.64" y="159.40" width="2.00" height="1.00" fill="#ba1822"/>
<rect x="256.28" y="159.40" width="2.00" height="1.20" fill="#2b8437"/>
<rect x="258.92" y="160.00" width="2.00" height="3.10" fill="#ba1822"/>
<rect x="261.56" y="162.50" width="2.00" height="1.25" fill="#ba1822"/>
<rect x="264.20" y="163.10" width="2.00" height="1.90" fill="#ba1822"/>
<rect x="266.84" y="163.25" width="2.00" height="1.50" fill="#2b8437"/>
<rect x="269.48" y="163.60" width="2.00" height="3.40" fill="#ba1822"/>
<rect x="272.13" y="167.00" width="2.00" height="3.40" fill="#ba1822"/>
<rect x="274.77" y="168.90" width="2.00" height="4.85" fill="#ba1822"/>
<rect x="277.41" y="159.90" width="2.00" height="13.85" fill="#2b8437"/>
<rect x="280.05" y="159.90" width="2.00" height="3.35" fill="#ba1822"/>
<rect x="282.69" y="164.00" width="2.00" height="5.25" fill="#ba1822"/>
<rect x="285.33" y="168.90" width="2.00" height="10.50" fill="#ba1822"/>
<rect x="287.97" y="176.00" width="2.00" height="2.60" fill="#2b8437"/>
<rect x="290.62" y="176.00" width="2.00" height="3.40" fill="#ba1822"/>
<rect x="293.26" y="164.00" width="2.00" height="15.00" fill="#2b8437"/>
<rect x="295.90" y="154.40" width="2.00" height="9.20" fill="#2b8437"/>
<rect x="298.54" y="154.40" width="2.00" height="1.00" fill="#2b8437"/>
<rect x="301.18" y="154.40" width="2.00" height="8.10" fill="#ba1822"/>
<rect x="303.82" y="153.10" width="2.00" height="9.40" fill="#2b8437"/>
<rect x="306.46" y="150.60" width="2.00" height="2.50" fill="#2b8437"/>
<rect x="309.11" y="150.60" width="2.00" height="2.50" fill="#ba1822"/>
<rect x="311.75" y="152.50" width="2.00" height="2.50" fill="#ba1822"/>
<rect x="314.39" y="154.40" width="2.00" height="1.20" fill="#ba1822"/>
<rect x="317.03" y="139.40" width="2.00" height="16.20" fill="#2b8437"/>
<rect x="319.67" y="140.00" width="2.00" height="7.50" fill="#ba1822"/>
<rect x="322.31" y="147.50" width="2.00" height="1.25" fill="#ba1822"/>
<rect x="324.96" y="148.75" width="2.00" height="1.85" fill="#ba1822"/>
<rect x="327.60" y="150.60" width="2.00" height="1.00" fill="#ba1822"/>
<rect x="330.24" y="151.90" width="2.00" height="3.10" fill="#ba1822"/>
<rect x="332.88" y="155.00" width="2.00" height="11.25" fill="#ba1822"/>
<rect x="335.52" y="166.25" width="2.00" height="2.50" fill="#ba1822"/>
<rect x="338.16" y="165.60" width="2.00" height="3.15" fill="#2b8437"/>
<rect x="340.80" y="148.10" width="2.00" height="17.50" fill="#2b8437"/>
<rect x="343.45" y="138.75" width="2.00" height="9.35" fill="#2b8437"/>
<rect x="346.09" y="139.40" width="2.00" height="3.10" fill="#ba1822"/>
<rect x="348.73" y="136.25" width="2.00" height="6.85" fill="#2b8437"/>
<rect x="351.37" y="136.90" width="2.00" height="7.50" fill="#ba1822"/>
<rect x="354.01" y="143.75" width="2.00" height="5.00" fill="#ba1822"/>
<rect x="356.65" y="148.10" width="2.00" height="1.90" fill="#ba1822"/>
<rect x="359.30" y="150.00" width="2.00" height="8.10" fill="#ba1822"/>
<rect x="361.94" y="155.60" width="2.00" height="2.50" fill="#2b8437"/>
<rect x="364.58" y="156.25" width="2.00" height="1.85" fill="#ba1822"/>
<rect x="367.22" y="157.50" width="2.00" height="1.25" fill="#ba1822"/>
<rect x="369.86" y="158.10" width="2.00" height="1.00" fill="#2b8437"/>
<rect x="372.50" y="158.10" width="2.00" height="3.15" fill="#ba1822"/>
<rect x="375.14" y="161.90" width="2.00" height="12.50" fill="#ba1822"/>
<rect x="377.79" y="174.40" width="2.00" height="6.20" fill="#ba1822"/>
<rect x="380.43" y="175.60" width="2.00" height="5.65" fill="#2b8437"/>
<rect x="383.07" y="173.10" width="2.00" height="2.50" fill="#2b8437"/>
<rect x="385.71" y="170.00" width="2.00" height="3.75" fill="#2b8437"/>
<rect x="388.35" y="168.75" width="2.00" height="2.50" fill="#2b8437"/>
<rect x="390.99" y="167.50" width="2.00" height="2.50" fill="#2b8437"/>
<rect x="393.63" y="167.50" width="2.00" height="2.50" fill="#ba1822"/>
<rect x="396.28" y="169.40" width="2.00" height="1.00" fill="#2b8437"/>
<rect x="398.92" y="169.40" width="2.00" height="6.85" fill="#ba1822"/>
<rect x="401.56" y="176.25" width="2.00" height="7.50" fill="#ba1822"/>
<rect x="404.20" y="183.75" width="2.00" height="2.50" fill="#ba1822"/>
<rect x="406.84" y="185.60" width="2.00" height="16.30" fill="#ba1822"/>
<rect x="409.48" y="196.90" width="2.00" height="5.00" fill="#2b8437"/>
<rect x="412.12" y="193.10" width="2.00" height="3.80" fill="#2b8437"/>
<rect x="414.77" y="191.25" width="2.00" height="2.50" fill="#2b8437"/>
<rect x="417.41" y="190.60" width="2.00" height="1.90" fill="#ba1822"/>
<rect x="420.05" y="191.90" width="2.00" height="1.00" fill="#2b8437"/>
<rect x="422.69" y="190.00" width="2.00" height="3.10" fill="#2b8437"/>
<rect x="425.33" y="188.75" width="2.00" height="1.85" fill="#2b8437"/>
<rect x="427.97" y="188.10" width="2.00" height="1.90" fill="#ba1822"/>
<rect x="430.62" y="188.10" width="2.00" height="1.90" fill="#ba1822"/>
<rect x="433.26" y="168.75" width="2.00" height="20.65" fill="#2b8437"/>
<rect x="435.90" y="162.50" width="2.00" height="6.90" fill="#2b8437"/>
<rect x="438.54" y="162.50" width="2.00" height="13.75" fill="#ba1822"/>
<rect x="441.18" y="175.60" width="2.00" height="1.30" fill="#ba1822"/>
<rect x="443.82" y="175.60" width="2.00" height="1.90" fill="#ba1822"/>
<rect x="446.46" y="176.25" width="2.00" height="3.75" fill="#ba1822"/>
<rect x="449.11" y="180.00" width="2.00" height="6.90" fill="#ba1822"/>
<rect x="451.75" y="185.60" width="2.00" height="2.50" fill="#ba1822"/>
<rect x="454.39" y="187.50" width="2.00" height="16.50" fill="#ba1822"/>
<rect x="457.03" y="204.00" width="2.00" height="10.50" fill="#ba1822"/>
<rect x="459.67" y="213.00" width="2.00" height="1.50" fill="#ba1822"/>
<rect x="462.31" y="213.00" width="2.00" height="2.25" fill="#ba1822"/>
<rect x="464.95" y="211.50" width="2.00" height="3.75" fill="#2b8437"/>
<rect x="467.60" y="211.50" width="2.00" height="1.50" fill="#ba1822"/>
<rect x="470.24" y="208.50" width="2.00" height="4.50" fill="#2b8437"/>
<rect x="472.88" y="208.20" width="2.00" height="1.80" fill="#ba1822"/>
<rect x="475.52" y="210.00" width="2.00" height="2.25" fill="#ba1822"/>
<rect x="478.16" y="210.75" width="2.00" height="1.50" fill="#2b8437"/>
<rect x="480.80" y="210.75" width="2.00" height="3.75" fill="#ba1822"/>
<rect x="483.45" y="214.50" width="2.00" height="24.75" fill="#ba1822"/>
<rect x="486.09" y="234.75" width="2.00" height="3.75" fill="#2b8437"/>
<rect x="488.73" y="228.75" width="2.00" height="6.00" fill="#2b8437"/>
<rect x="491.37" y="225.75" width="2.00" height="3.00" fill="#2b8437"/>
<rect x="494.01" y="222.00" width="2.00" height="4.50" fill="#2b8437"/>
<rect x="496.65" y="221.70" width="2.00" height="1.05" fill="#2b8437"/>
<rect x="499.29" y="221.70" width="2.00" height="10.05" fill="#ba1822"/>
<rect x="501.94" y="231.75" width="2.00" height="6.75" fill="#ba1822"/>
<rect x="504.58" y="237.75" width="2.00" height="2.25" fill="#ba1822"/>
<rect x="507.22" y="238.50" width="2.00" height="1.50" fill="#2b8437"/>
<rect x="509.86" y="238.50" width="2.00" height="2.25" fill="#ba1822"/>
<rect x="512.50" y="240.75" width="2.00" height="2.25" fill="#ba1822"/>
<rect x="515.14" y="243.00" width="2.00" height="9.50" fill="#ba1822"/>
<rect x="517.79" y="246.50" width="2.00" height="5.50" fill="#2b8437"/>
<rect x="520.43" y="246.00" width="2.00" height="4.50" fill="#2b8437"/>
<rect x="523.07" y="245.25" width="2.00" height="2.25" fill="#2b8437"/>
<rect x="525.71" y="241.50" width="2.00" height="4.50" fill="#2b8437"/>
<rect x="528.35" y="238.50" width="2.00" height="3.75" fill="#2b8437"/>
<rect x="530.99" y="234.75" width="2.00" height="3.00" fill="#2b8437"/>
<rect x="533.63" y="234.75" width="2.00" height="2.25" fill="#ba1822"/>
<rect x="536.28" y="231.00" width="2.00" height="5.25" fill="#2b8437"/>
<rect x="538.92" y="222.75" width="2.00" height="7.50" fill="#2b8437"/>
<rect x="541.56" y="222.00" width="2.00" height="2.25" fill="#2b8437"/>
<rect x="544.20" y="222.75" width="2.00" height="2.25" fill="#ba1822"/>
<rect x="546.84" y="223.50" width="2.00" height="1.00" fill="#2b8437"/>
<rect x="549.48" y="222.00" width="2.00" height="2.25" fill="#2b8437"/>
<rect x="552.12" y="221.25" width="2.00" height="3.75" fill="#ba1822"/>
<rect x="554.77" y="222.00" width="2.00" height="3.00" fill="#2b8437"/>
<rect x="557.41" y="221.25" width="2.00" height="1.50" fill="#2b8437"/>
<rect x="560.05" y="220.50" width="2.00" height="1.50" fill="#2b8437"/>
<rect x="562.69" y="211.50" width="2.00" height="8.25" fill="#2b8437"/>
<rect x="565.33" y="198.75" width="2.00" height="12.75" fill="#2b8437"/>
<rect x="567.97" y="198.75" width="2.00" height="1.00" fill="#2b8437"/>
<rect x="570.62" y="195.00" width="2.00" height="4.40" fill="#2b8437"/>
<rect x="573.26" y="193.75" width="2.00" height="1.25" fill="#2b8437"/>
<rect x="575.90" y="193.10" width="2.00" height="11.30" fill="#ba1822"/>
<rect x="578.54" y="201.90" width="2.00" height="3.10" fill="#2b8437"/>
<rect x="581.18" y="195.00" width="2.00" height="6.90" fill="#2b8437"/>
<rect x="583.82" y="190.00" width="2.00" height="5.00" fill="#2b8437"/>
<rect x="586.46" y="182.50" width="2.00" height="8.10" fill="#2b8437"/>
<rect x="589.11" y="181.25" width="2.00" height="1.25" fill="#2b8437"/>
<rect x="591.75" y="180.60" width="2.00" height="8.80" fill="#ba1822"/>
<rect x="594.39" y="188.10" width="2.00" height="5.65" fill="#ba1822"/>
<rect x="597.03" y="176.90" width="2.00" height="17.50" fill="#2b8437"/>
<rect x="599.67" y="176.25" width="2.00" height="4.35" fill="#ba1822"/>
<rect x="602.31" y="176.90" width="2.00" height="3.70" fill="#2b8437"/>
<rect x="604.95" y="175.60" width="2.00" height="8.80" fill="#ba1822"/>
<rect x="607.60" y="183.75" width="2.00" height="4.35" fill="#ba1822"/>
<rect x="610.24" y="188.10" width="2.00" height="1.30" fill="#2b8437"/>
<rect x="612.88" y="187.50" width="2.00" height="5.00" fill="#ba1822"/>
<rect x="615.52" y="191.90" width="2.00" height="2.50" fill="#ba1822"/>
<rect x="618.16" y="183.75" width="2.00" height="10.00" fill="#2b8437"/>
<rect x="620.80" y="183.10" width="2.00" height="8.15" fill="#ba1822"/>
<rect x="623.45" y="191.25" width="2.00" height="10.00" fill="#ba1822"/>
<rect x="626.09" y="201.90" width="2.00" height="5.60" fill="#ba1822"/>
<rect x="628.73" y="205.60" width="2.00" height="1.00" fill="#ba1822"/>
<line x1="50.75" y1="214" x2="664.25" y2="211.5" stroke="#8e8f96" stroke-width="1.4"/>
<rect x="0" y="18" width="700" height="2" fill="#f5f5f6"/>
<rect x="676" y="19" width="24" height="320" fill="#fff"/>
<rect x="675" y="19" width="1" height="339" fill="#e0e3eb"/>
<rect x="0" y="291" width="700" height="1" fill="#e0e3eb"/>
<rect x="0" y="338" width="700" height="1" fill="#e0e3eb"/>
<rect x="0" y="357" width="700" height="1" fill="#f0f1f3"/>
<text x="-3.13" y="305.10" font-size="8.80" fill="#474a52" textLength="9.26" lengthAdjust="spacingAndGlyphs">SL</text>
<text x="8.07" y="305.10" font-size="8.80" fill="#7e57c2" textLength="21.16" lengthAdjust="spacingAndGlyphs">43.39</text>
<text x="34.17" y="305.10" font-size="8.80" fill="#f2c230" textLength="21.16" lengthAdjust="spacingAndGlyphs">56.42</text>
<text x="681.63" y="46.10" font-size="9.50" fill="#30333b" textLength="21.74" lengthAdjust="spacingAndGlyphs">1.500</text>
<text x="681.63" y="83.40" font-size="9.50" fill="#30333b" textLength="21.74" lengthAdjust="spacingAndGlyphs">1.400</text>
<text x="681.63" y="120.70" font-size="9.50" fill="#30333b" textLength="21.74" lengthAdjust="spacingAndGlyphs">1.300</text>
<text x="681.63" y="158.00" font-size="9.50" fill="#30333b" textLength="21.74" lengthAdjust="spacingAndGlyphs">1.200</text>
<text x="681.63" y="195.20" font-size="9.50" fill="#30333b" textLength="21.74" lengthAdjust="spacingAndGlyphs">1.100</text>
<text x="681.63" y="232.50" font-size="9.50" fill="#30333b" textLength="21.74" lengthAdjust="spacingAndGlyphs">1.000</text>
<text x="681.63" y="269.80" font-size="9.50" fill="#30333b" textLength="21.74" lengthAdjust="spacingAndGlyphs">0.900</text>
<rect x="676" y="19" width="24" height="24.3" fill="#fff"/>
<rect x="678.5" y="21.5" width="30" height="18" rx="3" fill="#fff" stroke="#e0e3eb" stroke-width="1"/>
<text x="684.14" y="34.30" font-size="9.40" fill="#131722" textLength="19.93" lengthAdjust="spacingAndGlyphs">USDT</text>
<rect x="676" y="201" width="24" height="12" fill="#131722"/>
<text x="681.63" y="210.10" font-size="9.50" fill="#ffffff" font-weight="bold" textLength="21.74" lengthAdjust="spacingAndGlyphs">1.061</text>
<text x="681.63" y="301.70" font-size="9.50" fill="#30333b" textLength="21.74" lengthAdjust="spacingAndGlyphs">80.00</text>
<text x="681.63" y="330.30" font-size="9.50" fill="#30333b" textLength="21.74" lengthAdjust="spacingAndGlyphs">40.00</text>
<text x="12.09" y="350.90" font-size="9.40" fill="#30333b" textLength="9.63" lengthAdjust="spacingAndGlyphs">15</text>
<text x="75.50" y="350.90" font-size="9.40" fill="#30333b" textLength="9.63" lengthAdjust="spacingAndGlyphs">16</text>
<text x="138.91" y="350.90" font-size="9.40" fill="#30333b" textLength="9.63" lengthAdjust="spacingAndGlyphs">17</text>
<text x="202.32" y="350.90" font-size="9.40" fill="#30333b" textLength="9.63" lengthAdjust="spacingAndGlyphs">18</text>
<text x="265.73" y="350.90" font-size="9.40" fill="#30333b" textLength="9.63" lengthAdjust="spacingAndGlyphs">19</text>
<text x="329.14" y="350.90" font-size="9.40" fill="#30333b" font-weight="bold" textLength="9.63" lengthAdjust="spacingAndGlyphs">20</text>
<text x="392.55" y="350.90" font-size="9.40" fill="#30333b" textLength="9.63" lengthAdjust="spacingAndGlyphs">21</text>
<text x="455.96" y="350.90" font-size="9.40" fill="#30333b" textLength="9.63" lengthAdjust="spacingAndGlyphs">22</text>
<text x="519.37" y="350.90" font-size="9.40" fill="#30333b" textLength="9.63" lengthAdjust="spacingAndGlyphs">23</text>
<text x="582.78" y="350.90" font-size="9.40" fill="#30333b" textLength="9.63" lengthAdjust="spacingAndGlyphs">24</text>
<text x="646.19" y="350.90" font-size="9.40" fill="#30333b" textLength="9.63" lengthAdjust="spacingAndGlyphs">25</text>
<circle cx="-0.3" cy="375.4" r="2.3" fill="#131722"/>
<polygon points="3.9,373.4 8.7,373.4 4.9,383.4 0.1,383.4" fill="#131722"/>
<text x="13.73" y="383.50" font-size="14.50" fill="#0f0f12" font-weight="bold" textLength="85.44" lengthAdjust="spacingAndGlyphs">TradingView</text>
</svg>
</body></html>
